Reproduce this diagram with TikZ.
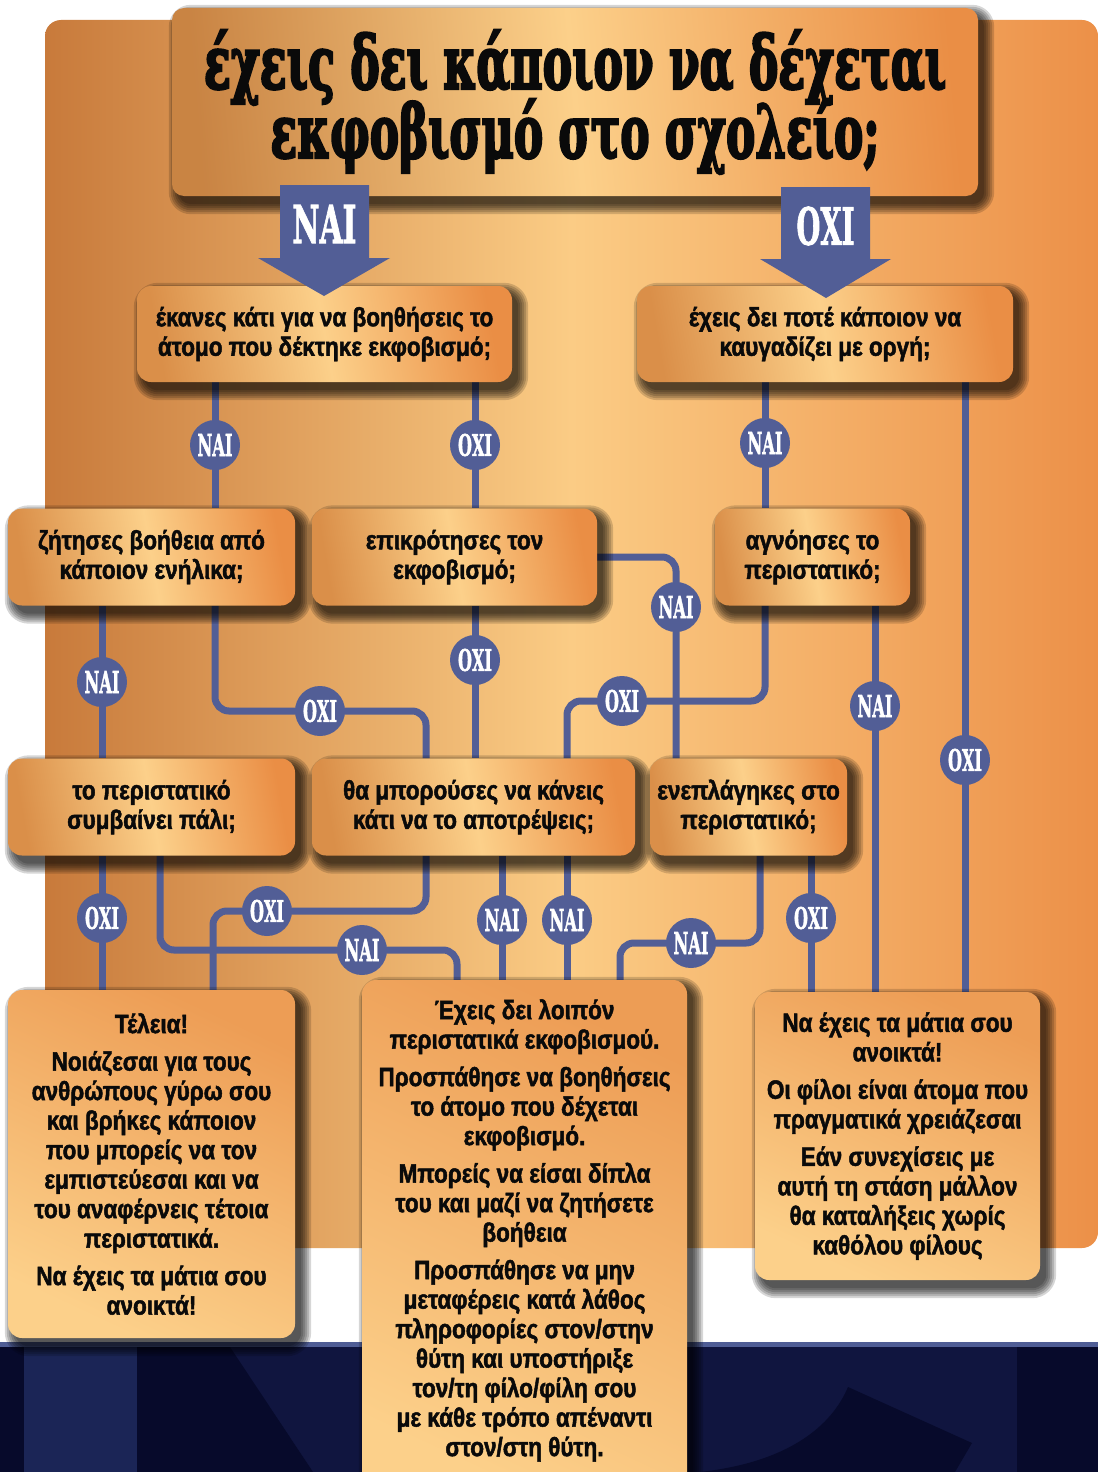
\documentclass[tikz,border=0pt]{standalone}
\usepackage{fontspec}
\usepackage{graphicx}
\usetikzlibrary{calc}
\newfontfamily\slabf[FakeBold=2]{DejaVu Serif Bold}
\newfontfamily\titlef[FakeBold=4]{DejaVu Serif Bold}
\newfontfamily\bodyf[FakeStretch=0.85,FakeBold=1.8]{Liberation Sans Bold}
\definecolor{lineblue}{HTML}{525E96}
\definecolor{bgleft}{HTML}{C87A3B}
\definecolor{bgmid}{HTML}{FBCC85}
\definecolor{bgright}{HTML}{EC9048}
\definecolor{bxdark}{HTML}{DA8F49}
\definecolor{bxlight}{HTML}{FCD08A}
\definecolor{bxorange}{HTML}{EA8E45}
\definecolor{bxtop}{HTML}{ED9D55}
\definecolor{navy}{HTML}{10153F}
\definecolor{navylight}{HTML}{1B2556}
\definecolor{navydark}{HTML}{070A2B}
\definecolor{navyline}{HTML}{4F5D95}
\definecolor{ink}{HTML}{0A0A0A}
\pgfdeclarelayer{backdrop}
\pgfdeclarelayer{lines}
\pgfdeclarelayer{badges}
\pgfdeclarelayer{shadows}
\pgfsetlayers{backdrop,lines,badges,shadows,main}
\newcommand\bodyfont{\bodyf\fontsize{26.5}{29.5}\selectfont}
\newcommand\badgetext[2]{\resizebox{#1}{22pt}{\slabf #2}}
% soft drop shadow under a named node
\newcommand\boxshadow[2]{%
  \begin{pgfonlayer}{shadows}
  \foreach \s in {0,2,...,10}{%
    \fill[black, opacity=0.16, rounded corners={(#2+\s)*1pt}]
      ($(#1.north west)+(7-\s,7-\s)$) rectangle ($(#1.south east)+(6+\s,8+\s)$);
  }%
  \end{pgfonlayer}}
\tikzset{
  qbox/.style={rectangle, rounded corners=14pt, left color=bxdark, right color=bxorange, middle color=bxlight, shading angle=100, align=center, text=ink, font=\bodyfont, inner sep=0pt},
  abox/.style={rectangle, rounded corners=14pt, top color=bxtop, bottom color=bxlight, shading angle=-25, align=center, text=ink, font=\bodyfont, inner sep=0pt},
  conn/.style={draw=lineblue, line width=7pt, rounded corners=14pt},
  badge/.style={circle, fill=lineblue, minimum size=50pt, inner sep=0pt, text=white},
  atext/.style={align=center, text=ink, font=\bodyfont, inner sep=0pt},
  bigarrow/.style={fill=lineblue},
}
\begin{document}
\begin{tikzpicture}[x=1pt,y=-1pt]
\useasboundingbox (0,0) rectangle (1098,1472);
% ---------- background ----------
\begin{pgfonlayer}{backdrop}
\fill[white] (0,0) rectangle (1098,1472);
\shade[left color=bgleft, right color=bgright, middle color=bgmid, rounded corners=16pt] (45,20) rectangle (1098,1248);
\fill[navy] (0,1347) rectangle (1098,1472);
\fill[navydark] (0,1347) rectangle (24,1472);
\fill[navylight] (24,1347) rectangle (137,1472);
\fill[navydark] (137,1347) -- (230,1347) -- (313,1472) -- (137,1472) -- cycle;
\fill[navydark] (1017,1347) rectangle (1098,1472);
\fill[navydark] (848,1387) -- (972,1443) -- (955,1472) -- (700,1472) .. controls (790,1462) and (832,1425) .. (848,1387) -- cycle;
\fill[navyline] (0,1342) rectangle (1098,1347);
\end{pgfonlayer}
% ---------- title ----------
\node[rectangle, rounded corners=12pt, left color=bxdark!92!black, right color=bxorange, middle color=bxlight, shading angle=95, minimum width=806pt, minimum height=188pt, inner sep=0pt, align=center, text=ink, font={\fontsize{73}{69}\selectfont\titlef\lineskiplimit=-200pt}] (title) at (575,102) {\resizebox{742pt}{\height}{έχεις δει κάποιον να δέχεται}\\\resizebox{609pt}{\height}{εκφοβισμό στο σχολείο;}};
\boxshadow{title}{12}
% ---------- question boxes ----------
\node[qbox, minimum width=375pt, minimum height=96pt] (A) at (324.5,334) {έκανες κάτι για να βοηθήσεις το\\άτομο που δέκτηκε εκφοβισμό;};
\node[qbox, minimum width=376pt, minimum height=96pt] (B) at (825,334) {έχεις δει ποτέ κάποιον να\\καυγαδίζει με οργή;};
\node[qbox, minimum width=287pt, minimum height=97pt] (C) at (151.5,557) {ζήτησες βοήθεια από\\κάποιον ενήλικα;};
\node[qbox, minimum width=285pt, minimum height=97pt] (D) at (454.5,557) {επικρότησες τον\\εκφοβισμό;};
\node[qbox, minimum width=195pt, minimum height=97pt] (E) at (812.5,557) {αγνόησες το\\περιστατικό;};
\node[qbox, minimum width=287pt, minimum height=97pt] (F) at (151.5,807) {το περιστατικό\\συμβαίνει πάλι;};
\node[qbox, minimum width=323pt, minimum height=97pt] (G) at (473.5,807) {θα μπορούσες να κάνεις\\κάτι να το αποτρέψεις;};
\node[qbox, minimum width=197pt, minimum height=97pt] (H) at (748.5,807) {ενεπλάγηκες στο\\περιστατικό;};
\foreach \b in {A,B,C,D,E,F,G,H}{\boxshadow{\b}{14}}
% ---------- answer boxes ----------
\node[abox, minimum width=287pt, minimum height=348pt] (I) at (151.5,1164) {Τέλεια!\\[8pt]Νοιάζεσαι για τους\\ανθρώπους γύρω σου\\και βρήκες κάποιον\\που μπορείς να τον\\εμπιστεύεσαι και να\\του αναφέρνεις τέτοια\\περιστατικά.\\[8pt]Να έχεις τα μάτια σου\\ανοικτά!};
\node[abox, minimum width=325pt, minimum height=520pt] (J) at (524.5,1240) {};
\node[atext, anchor=north] (Jt) at (524.5,999) {Έχεις δει λοιπόν\\περιστατικά εκφοβισμού.\\[8pt]Προσπάθησε να βοηθήσεις\\το άτομο που δέχεται\\εκφοβισμό.\\[8pt]Μπορείς να είσαι δίπλα\\του και μαζί να ζητήσετε\\βοήθεια\\[8pt]Προσπάθησε να μην\\μεταφέρεις κατά λάθος\\πληροφορίες στον/στην\\θύτη και υποστήριξε\\τον/τη φίλο/φίλη σου\\με κάθε τρόπο απέναντι\\στον/στη θύτη.};
\node[abox, minimum width=285pt, minimum height=288pt] (K) at (897.5,1136) {Να έχεις τα μάτια σου\\ανοικτά!\\[8pt]Οι φίλοι είναι άτομα που\\πραγματικά χρειάζεσαι\\[8pt]Εάν συνεχίσεις με\\αυτή τη στάση μάλλον\\θα καταλήξεις χωρίς\\καθόλου φίλους};
\foreach \b in {I,J,K}{\boxshadow{\b}{14}}
% ---------- badges ----------
\begin{pgfonlayer}{badges}
\node[badge] (bA1) at (215,445) {\badgetext{35pt}{ΝΑΙ}};
\node[badge] (bA2) at (475,445) {\badgetext{34pt}{ΟΧΙ}};
\node[badge] (bB1) at (765,443) {\badgetext{35pt}{ΝΑΙ}};
\node[badge] (bB2) at (965,760) {\badgetext{34pt}{ΟΧΙ}};
\node[badge] (bC1) at (102,682) {\badgetext{35pt}{ΝΑΙ}};
\node[badge] (bC2) at (320,711) {\badgetext{34pt}{ΟΧΙ}};
\node[badge] (bD1) at (475,660) {\badgetext{34pt}{ΟΧΙ}};
\node[badge] (bD2) at (676,607) {\badgetext{35pt}{ΝΑΙ}};
\node[badge] (bE1) at (622,701) {\badgetext{34pt}{ΟΧΙ}};
\node[badge] (bE2) at (875,706) {\badgetext{35pt}{ΝΑΙ}};
\node[badge] (bF1) at (102,918) {\badgetext{34pt}{ΟΧΙ}};
\node[badge] (bF2) at (362,950) {\badgetext{35pt}{ΝΑΙ}};
\node[badge] (bG1) at (267,911) {\badgetext{34pt}{ΟΧΙ}};
\node[badge] (bG2) at (502,920) {\badgetext{35pt}{ΝΑΙ}};
\node[badge] (bG3) at (567,920) {\badgetext{35pt}{ΝΑΙ}};
\node[badge] (bH1) at (691,943) {\badgetext{35pt}{ΝΑΙ}};
\node[badge] (bH2) at (811,918) {\badgetext{34pt}{ΟΧΙ}};
\end{pgfonlayer}
% ---------- connectors ----------
\coordinate (xG) at (426,0);
\coordinate (xF) at (160,0);
\coordinate (xJ) at (457,0);
\coordinate (xI) at (213,0);
\coordinate (xH) at (760,0);
\coordinate (xJb) at (620,0);
\begin{pgfonlayer}{lines}
\draw[conn] (A.south -| bA1) -- (C.north -| bA1);
\draw[conn] (A.south -| bA2) -- (D.north -| bA2);
\draw[conn] (B.south -| bB1) -- (E.north -| bB1);
\draw[conn] (B.south -| bB2) -- (K.north -| bB2);
\draw[conn] (C.south -| bC1) -- (F.north -| bC1);
\draw[conn] (C.south -| bA1) |- (bC2.center) -| (G.north -| xG);
\draw[conn] (D.south -| bD1) -- (G.north -| bD1);
\draw[conn] (D.east) -| (H.north -| bD2);
\draw[conn] (E.south -| bB1) |- (bE1.center) -| (G.north -| bG3);
\draw[conn] (E.south -| bE2) -- (K.north -| bE2);
\draw[conn] (F.south -| bF1) -- (I.north -| bF1);
\draw[conn] (F.south -| xF) |- (bF2.center) -| (J.north -| xJ);
\draw[conn] (G.south -| xG) |- (bG1.center) -| (I.north -| xI);
\draw[conn] (G.south -| bG2) -- (J.north -| bG2);
\draw[conn] (G.south -| bG3) -- (J.north -| bG3);
\draw[conn] (H.south -| xH) |- (bH1.center) -| (J.north -| xJb);
\draw[conn] (H.south -| bH2) -- (K.north -| bH2);
\end{pgfonlayer}
% ---------- big arrows ----------
\fill[bigarrow] (280,185) -- (369,185) -- (369,258) -- (390,258) -- (324,296) -- (258,258) -- (280,258) -- cycle;
\node[text=white, inner sep=0pt] (yeslabel) at (324.5,224) {\resizebox{64pt}{38pt}{\slabf ΝΑΙ}};
\fill[bigarrow] (781,187) -- (870,187) -- (870,259) -- (891,259) -- (826,298) -- (760,259) -- (781,259) -- cycle;
\node[text=white, inner sep=0pt] (nolabel) at (825.5,226) {\resizebox{58pt}{38pt}{\slabf ΟΧΙ}};
\end{tikzpicture}
\end{document}
